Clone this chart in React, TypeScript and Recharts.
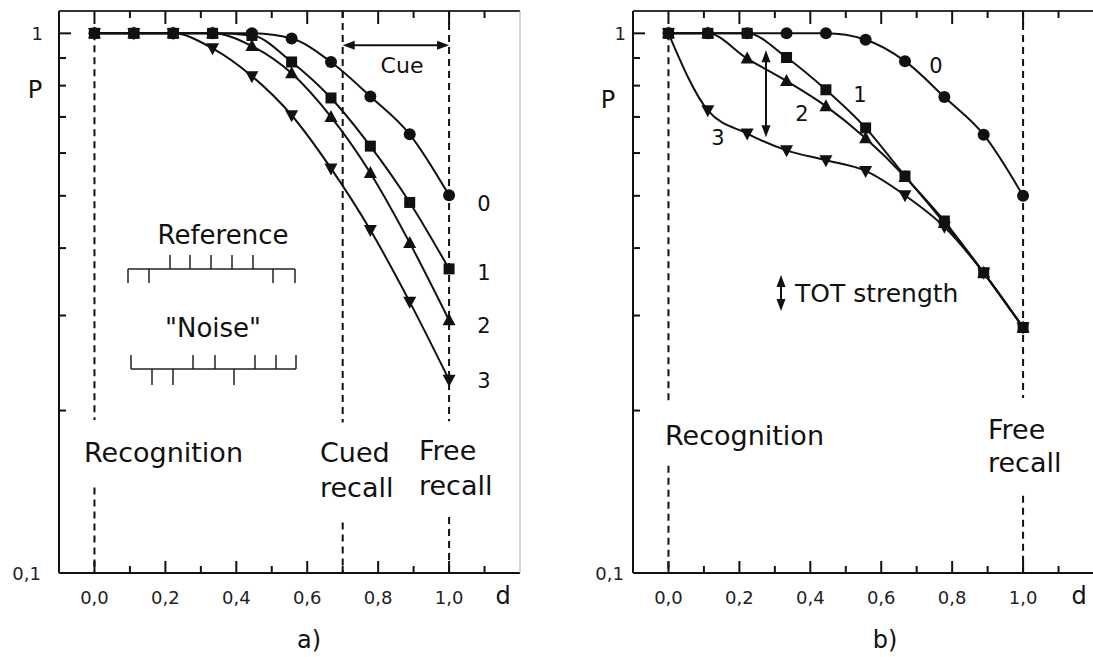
import React from 'react'
import { LineChart, Line, XAxis, YAxis, ReferenceLine } from 'recharts'

// distance d, the same ten points in both panels
const dValues = [0, 0.111, 0.222, 0.333, 0.444, 0.556, 0.667, 0.778, 0.889, 1.0]
const xTicks = [0, 0.1, 0.2, 0.3, 0.4, 0.5, 0.6, 0.7, 0.8, 0.9, 1.0, 1.1]
const yTicks = [0.1, 0.2, 0.3, 0.4, 0.5, 0.6, 0.7, 0.8, 0.9, 1]

// panel a) P for the curves 0..3
const a0 = [1, 1, 1, 1, 1, 0.978, 0.885, 0.764, 0.65, 0.501]
const a1 = [1, 1, 1, 1, 0.991, 0.885, 0.759, 0.618, 0.486, 0.366]
const a2 = [1, 1, 1, 1, 0.947, 0.843, 0.7, 0.551, 0.409, 0.294]
const a3 = [1, 1, 1, 0.938, 0.833, 0.705, 0.562, 0.432, 0.318, 0.228]

// panel b) P for the curves 0..3
const b0 = [1, 1, 1, 1, 1, 0.973, 0.888, 0.762, 0.649, 0.5]
const b1 = [1, 1, 1, 0.902, 0.786, 0.668, 0.544, 0.449, 0.36, 0.285]
const b2 = [1, 1, 0.898, 0.816, 0.733, 0.639, 0.542, 0.445, 0.36, 0.285]
const b3 = [1, 0.72, 0.652, 0.607, 0.582, 0.556, 0.501, 0.438, 0.36, 0.285]

// dashed guide lines, broken where the text sits: [d, from P, to P]
const guidesA = [
  [0, 1, 0.192], [0, 0.144, 0.1],
  [0.7, 1.1, 0.19], [0.7, 0.124, 0.1],
  [1, 1.1, 0.191], [1, 0.127, 0.1],
]
const guidesB = [
  [0, 1, 0.205], [0, 0.158, 0.1],
  [1, 1.1, 0.211], [1, 0.139, 0.1],
]
// double arrows [d1, P1, d2, P2]
const arrowsA = [[0.7, 0.95, 1.0, 0.95]]
const arrowsB = [[0.275, 0.93, 0.275, 0.642]]

const FONT = '"DejaVu Sans", sans-serif'
const INK = '#111'

type Kind = 'circle' | 'square' | 'up' | 'down'
const kinds: Kind[] = ['circle', 'square', 'up', 'down']

const makeRows = (s: number[][]) =>
  dValues.map((d, i) => ({ d, s0: s[0][i], s1: s[1][i], s2: s[2][i], s3: s[3][i] }))

const dotFor = (kind: Kind) => (p: any) => {
  const { cx, cy, index } = p
  if (cx == null || cy == null) return <g key={index} />
  if (kind === 'circle') return <circle key={index} cx={cx} cy={cy} r={6} fill={INK} />
  if (kind === 'square') return <rect key={index} x={cx - 5.5} y={cy - 5.5} width={11} height={11} fill={INK} />
  if (kind === 'up')
    return <path key={index} d={`M${cx},${cy - 7}L${cx + 6.5},${cy + 5}L${cx - 6.5},${cy + 5}Z`} fill={INK} />
  return <path key={index} d={`M${cx},${cy + 7}L${cx + 6.5},${cy - 5}L${cx - 6.5},${cy - 5}Z`} fill={INK} />
}

function arrowPath(x1: number, y1: number, x2: number, y2: number) {
  const dx = x2 - x1
  const dy = y2 - y1
  const len = Math.hypot(dx, dy) || 1
  const ux = dx / len
  const uy = dy / len
  const hl = 12
  const hw = 4.5
  const head = (tx: number, ty: number, vx: number, vy: number) => {
    const bx = tx - vx * hl
    const by = ty - vy * hl
    return `M${tx},${ty}L${bx - vy * hw},${by + vx * hw}L${bx + vy * hw},${by - vx * hw}Z`
  }
  return (
    <g>
      <line x1={x1 + ux * 8} y1={y1 + uy * 8} x2={x2 - ux * 8} y2={y2 - uy * 8} stroke={INK} strokeWidth={2} />
      <path d={head(x1, y1, -ux, -uy)} fill={INK} />
      <path d={head(x2, y2, ux, uy)} fill={INK} />
    </g>
  )
}

const ArrowShape = (p: any) => arrowPath(p.x1, p.y1, p.x2, p.y2)

const isMajor = (v: number) => Math.round(v * 10) % 2 === 0
const fmt = (v: number) => v.toFixed(1).replace('.', ',')

const BottomTick = (p: any) => {
  const { x, y, payload } = p
  const v = payload.value
  return (
    <g>
      <line x1={x} y1={y} x2={x} y2={y - (isMajor(v) ? 12 : 7)} stroke={INK} strokeWidth={2} />
      {isMajor(v) && (
        <text x={x} y={y + 31} textAnchor="middle" fontSize={18} fontFamily={FONT} fill="#222">
          {fmt(v)}
        </text>
      )}
    </g>
  )
}

const TopTick = (p: any) => {
  const { x, y, payload } = p
  return <line x1={x} y1={y} x2={x} y2={y + (isMajor(payload.value) ? 13 : 7)} stroke={INK} strokeWidth={2} />
}

const leftTick = (gap: number) => (p: any) => {
  const { x, y, payload } = p
  const v = payload.value
  const labelled = v === 1 || v === 0.1
  return (
    <g>
      <line x1={x} y1={y} x2={x + (labelled ? 12 : 7)} y2={y} stroke={INK} strokeWidth={2} />
      {labelled && (
        <text x={x - gap - (v === 1 ? 0 : 2)} y={y + 6.5} textAnchor="end" fontSize={18} fontFamily={FONT} fill="#222">
          {v === 1 ? '1' : '0,1'}
        </text>
      )}
    </g>
  )
}

function Panel({ rows, guides, arrows, gap, width, margin, border }: any) {
  return (
    <LineChart width={width} height={657} data={rows} margin={margin}>
      <XAxis
        dataKey="d"
        type="number"
        domain={[-0.1, 1.2]}
        allowDataOverflow
        ticks={xTicks}
        interval={0}
        height={1}
        tickSize={0}
        tickMargin={0}
        tickLine={false}
        tick={BottomTick}
        axisLine={{ stroke: INK, strokeWidth: 2 }}
      />
      <XAxis
        xAxisId="top"
        orientation="top"
        dataKey="d"
        type="number"
        domain={[-0.1, 1.2]}
        allowDataOverflow
        ticks={xTicks}
        interval={0}
        height={1}
        tickSize={0}
        tickMargin={0}
        tickLine={false}
        tick={TopTick}
        axisLine={{ stroke: '#333', strokeWidth: 2 }}
      />
      <YAxis
        type="number"
        scale="log"
        domain={[0.1, 1.1]}
        allowDataOverflow
        ticks={yTicks}
        interval={0}
        width={1}
        tickSize={0}
        tickMargin={0}
        tickLine={false}
        tick={leftTick(gap)}
        axisLine={{ stroke: INK, strokeWidth: 2 }}
      />
      <YAxis
        yAxisId="right"
        orientation="right"
        type="number"
        domain={[0, 1]}
        width={1}
        tick={false}
        tickLine={false}
        axisLine={border ? { stroke: '#aaa', strokeWidth: 1 } : false}
      />
      {guides.map((g: number[], i: number) => (
        <ReferenceLine
          key={'g' + i}
          segment={[{ x: g[0], y: g[1] }, { x: g[0], y: g[2] }]}
          stroke={INK}
          strokeWidth={2}
          strokeDasharray="7 5"
        />
      ))}
      {arrows.map((a: number[], i: number) => (
        <ReferenceLine key={'a' + i} segment={[{ x: a[0], y: a[1] }, { x: a[2], y: a[3] }]} shape={ArrowShape} />
      ))}
      {kinds.map((k, i) => (
        <Line
          key={k}
          dataKey={'s' + i}
          type="monotone"
          stroke={INK}
          strokeWidth={2}
          dot={dotFor(k)}
          activeDot={false}
          isAnimationActive={false}
        />
      ))}
    </LineChart>
  )
}

const T = ({ x, y, size = 21, anchor = 'middle', children }: any) => (
  <text x={x} y={y} fontSize={size} textAnchor={anchor} fontFamily={FONT} fill={INK}>
    {children}
  </text>
)

function Overlay() {
  const ink = { stroke: '#222', strokeWidth: 1.5 }
  const refDown = [128, 149, 273, 295]
  const refUp = [170, 190, 211, 232, 253]
  const noiseUp = [131, 193, 215, 255, 276, 296]
  const noiseDown = [152, 173, 234]
  return (
    <svg width={1093} height={657} style={{ position: 'absolute', left: 0, top: 0, pointerEvents: 'none' }}>
      {/* panel a */}
      <T x={35} y={98} size={24}>P</T>
      <T x={484} y={211}>0</T>
      <T x={484} y={280}>1</T>
      <T x={484} y={333}>2</T>
      <T x={484} y={388}>3</T>
      <T x={402} y={73} size={22}>Cue</T>
      <T x={223} y={244} size={26}>Reference</T>
      <T x={213} y={337} size={26}>"Noise"</T>
      <line x1={128} y1={269} x2={295} y2={269} {...ink} />
      {refDown.map(x => <line key={'rd' + x} x1={x} y1={269} x2={x} y2={283} {...ink} />)}
      {refUp.map(x => <line key={'ru' + x} x1={x} y1={269} x2={x} y2={255} {...ink} />)}
      <line x1={131} y1={369} x2={296} y2={369} {...ink} />
      {noiseUp.map(x => <line key={'nu' + x} x1={x} y1={369} x2={x} y2={355} {...ink} />)}
      {noiseDown.map(x => <line key={'nd' + x} x1={x} y1={369} x2={x} y2={385} {...ink} />)}
      <T x={84} y={462} size={27} anchor="start">Recognition</T>
      <T x={320} y={462} size={27} anchor="start">Cued</T>
      <T x={320} y={497} size={27} anchor="start">recall</T>
      <T x={419} y={460} size={27} anchor="start">Free</T>
      <T x={419} y={495} size={27} anchor="start">recall</T>
      <T x={503} y={604} size={24}>d</T>
      <T x={309} y={648} size={24}>a)</T>
      {/* panel b */}
      <T x={608} y={108} size={24}>P</T>
      <T x={936} y={73}>0</T>
      <T x={860} y={102}>1</T>
      <T x={802} y={121}>2</T>
      <T x={718} y={145}>3</T>
      {arrowPath(781, 275, 781, 311)}
      <T x={795} y={302} size={25} anchor="start">TOT strength</T>
      <T x={665} y={445} size={27} anchor="start">Recognition</T>
      <T x={988} y={439} size={27} anchor="start">Free</T>
      <T x={988} y={472} size={27} anchor="start">recall</T>
      <T x={1079} y={604} size={24}>d</T>
      <T x={885} y={648} size={24}>b)</T>
    </svg>
  )
}

export default function App() {
  const rowsA = makeRows([a0, a1, a2, a3])
  const rowsB = makeRows([b0, b1, b2, b3])
  return (
    <div style={{ position: 'absolute', left: 0, top: 0, width: 1093, height: 657, overflow: 'hidden', background: '#fff' }}>
      <div style={{ position: 'absolute', left: 0, top: 0 }}>
        <Panel rows={rowsA} guides={guidesA} arrows={arrowsA} gap={16} width={540} border
          margin={{ top: 10, left: 58, right: 19, bottom: 83 }} />
      </div>
      <div style={{ position: 'absolute', left: 560, top: 0 }}>
        <Panel rows={rowsB} guides={guidesB} arrows={arrowsB} gap={7} width={535} border={false}
          margin={{ top: 10, left: 72, right: 0, bottom: 83 }} />
      </div>
      <Overlay />
    </div>
  )
}
